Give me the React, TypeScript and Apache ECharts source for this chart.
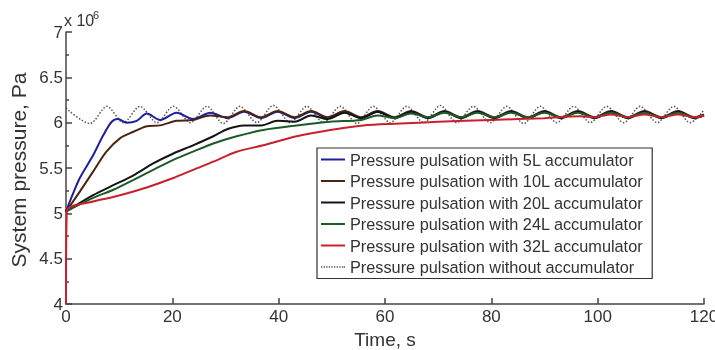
import React, { useEffect, useRef } from "react";
import * as echarts from "echarts";

const xTicks = [0, 20, 40, 60, 80, 100, 120];
const yTicks = [4, 4.5, 5, 5.5, 6, 6.5, 7];

const seriesNames = [
  "Pressure pulsation with 5L accumulator",
  "Pressure pulsation with 10L accumulator",
  "Pressure pulsation with 20L accumulator",
  "Pressure pulsation with 24L accumulator",
  "Pressure pulsation with 32L accumulator",
  "Pressure pulsation without accumulator",
];

// shared oscillation times once the accumulators settle (s)
const bandT = [30.4, 33.5, 36.7, 39.8, 43.0, 46.1, 49.2, 52.4, 55.5, 58.6, 61.8, 64.9, 68.1, 71.2, 74.3, 77.4, 80.6, 83.7, 86.9, 90.0, 93.1, 96.3, 99.4, 102.5, 105.7, 108.8, 112.0, 115.1, 118.2, 120];

// 5L
const t5 = [0, 1.2, 2.6, 5.1, 7.0, 8.6, 9.8, 11.4, 13.3, 15.2, 17.7, 20.8, 23.9, 27.2, ...bandT];
const v5 = [5.02, 5.2, 5.39, 5.64, 5.86, 6.01, 6.04, 6.0, 6.02, 6.1, 6.03, 6.11, 6.04, 6.11,
  6.05, 6.12, 6.05, 6.12, 6.05, 6.12, 6.05, 6.12, 6.05, 6.12, 6.05, 6.12, 6.05, 6.12, 6.05, 6.12, 6.05, 6.12, 6.05, 6.12, 6.05, 6.12, 6.05, 6.12, 6.05, 6.12, 6.05, 6.12, 6.05, 6.08];
// 10L
const t10 = [0, 2.6, 5.1, 7.6, 10.2, 12.7, 15.2, 17.7, 20.8, 23.9, 27.1, ...bandT];
const v10 = [5.02, 5.24, 5.46, 5.68, 5.83, 5.9, 5.96, 5.97, 6.02, 6.03, 6.08,
  6.06, 6.13, 6.06, 6.13, 6.06, 6.13, 6.06, 6.13, 6.06, 6.13, 6.06, 6.13, 6.06, 6.13, 6.06, 6.13, 6.06, 6.13, 6.06, 6.13, 6.06, 6.13, 6.06, 6.13, 6.06, 6.13, 6.06, 6.13, 6.06, 6.09];
// 20L
const t20 = [0, 5.1, 8.9, 12.7, 16.4, 20.2, 23.9, 27.7, ...bandT];
const v20 = [5.02, 5.2, 5.31, 5.42, 5.55, 5.66, 5.75, 5.85,
  5.93, 5.97, 5.97, 6.02, 6.01, 6.08, 6.04, 6.11, 6.05, 6.12, 6.05, 6.12, 6.05, 6.12, 6.05, 6.12, 6.05, 6.12, 6.05, 6.12, 6.05, 6.12, 6.05, 6.12, 6.05, 6.12, 6.05, 6.12, 6.05, 6.08];
// 24L
const t24 = [0, 5.1, 8.9, 12.7, 16.4, 20.2, 23.9, 27.7, 32.1, 37.1, 43.4, 49.7, 55.5, 58.6, 61.8, 64.9, 68.1, 71.2, 74.3, 77.4, 80.6, 83.7, 86.9, 90.0, 93.1, 96.3, 99.4, 102.5, 105.7, 108.8, 112.0, 115.1, 118.2, 120];
const v24 = [5.02, 5.17, 5.26, 5.37, 5.48, 5.59, 5.68, 5.77, 5.85, 5.92, 5.97, 6.01, 6.03, 6.08, 6.05, 6.1, 6.06, 6.11, 6.06, 6.11, 6.06, 6.11, 6.06, 6.11, 6.06, 6.11, 6.06, 6.11, 6.06, 6.11, 6.06, 6.11, 6.06, 6.08];
// 32L
const t32 = [0, 0.15, 5.1, 8.9, 12.7, 16.4, 20.2, 23.9, 27.7, 32.1, 37.1, 43.4, 49.7, 55.9, 62.8, 70, 80, 90, 96.7, 99.4, 102.5, 105.7, 108.8, 112.0, 115.1, 118.2, 120];
const v32 = [4.0, 5.02, 5.13, 5.18, 5.24, 5.31, 5.39, 5.48, 5.57, 5.68, 5.75, 5.85, 5.92, 5.97, 5.99, 6.01, 6.03, 6.05, 6.07, 6.06, 6.09, 6.06, 6.09, 6.06, 6.09, 6.06, 6.08];
// without accumulator
const t0 = [0, 4.5, 7.7, 10.8, 13.9, 17.1, 20.2, 23.4, 26.5, 29.6, 32.7, 35.9, 39.0, 42.2, 45.3, 48.4, 51.6, 54.7, 57.8, 61.0, 64.1, 67.3, 70.4, 73.5, 76.6, 79.8, 82.9, 86.1, 89.2, 92.3, 95.5, 98.6, 101.7, 104.9, 108.0, 111.2, 114.3, 117.4, 120];
const v0 = [6.16, 5.99, 6.18, 6.0, 6.18, 6.0, 6.18, 6.0, 6.18, 5.99, 6.18, 6.0, 6.19, 6.0, 6.18, 6.0, 6.18, 5.99, 6.18, 6.0, 6.18, 6.0, 6.19, 6.0, 6.18, 6.0, 6.18, 5.99, 6.18, 6.0, 6.18, 6.0, 6.18, 6.0, 6.18, 6.0, 6.18, 6.0, 6.14];

const colors = ["#1f1f9a", "#4a2612", "#141414", "#1c5a26", "#c8202c", "#555555"];

const FONT = "'Liberation Sans', Arial, sans-serif";

const SOLID_ICON = "path://M0,0h24v2h-24z";
const DOTTED_ICON =
  "path://M0,0h1.3v1.3h-1.3zM2.6,0h1.3v1.3h-1.3zM5.2,0h1.3v1.3h-1.3zM7.8,0h1.3v1.3h-1.3zM10.4,0h1.3v1.3h-1.3zM13,0h1.3v1.3h-1.3zM15.6,0h1.3v1.3h-1.3zM18.2,0h1.3v1.3h-1.3zM20.8,0h1.3v1.3h-1.3zM22.7,0h1.3v1.3h-1.3z";

export default function App() {
  const ref = useRef<HTMLDivElement>(null);
  useEffect(() => {
    if (!ref.current) return;
    document.body.style.margin = "0";
    document.body.style.overflow = "hidden";
    document.documentElement.style.overflow = "hidden";
    const chart = echarts.init(ref.current, null, { renderer: "svg" });
    const pairs = (t: number[], v: number[]) => t.map((x, i) => [x, v[i]]);
    const sets = [pairs(t5, v5), pairs(t10, v10), pairs(t20, v20), pairs(t24, v24), pairs(t32, v32), pairs(t0, v0)];
    const series = sets.map((d, i) => ({
      name: seriesNames[i],
      type: "line",
      data: d,
      symbol: "none",
      showSymbol: false,
      smooth: 0.3,
      z: i === 5 ? 1 : 2 + i,
      lineStyle: {
        color: colors[i],
        width: i === 5 ? 1.5 : 2,
        type: i === 5 ? [1.5, 1.8] : "solid",
      },
      itemStyle: { color: colors[i] },
    }));
    chart.setOption({
      animation: false,
      textStyle: { fontFamily: FONT },
      grid: { left: 66, right: 11, top: 32, bottom: 46, containLabel: false, outerBoundsMode: "none" },
      xAxis: {
        type: "value",
        min: xTicks[0],
        max: xTicks[xTicks.length - 1],
        interval: 20,
        axisLine: { lineStyle: { color: "#444", width: 1.5 } },
        axisTick: { inside: true, length: 6, lineStyle: { color: "#444", width: 1.5 } },
        axisLabel: { fontSize: 17, color: "#333", margin: 4, fontFamily: FONT },
        splitLine: { show: false },
        name: "Time, s",
        nameLocation: "middle",
        nameGap: 22,
        nameTextStyle: { fontSize: 19, color: "#333", fontFamily: FONT },
      },
      yAxis: {
        type: "value",
        min: yTicks[0],
        max: yTicks[yTicks.length - 1],
        interval: 0.5,
        axisLine: { show: true, lineStyle: { color: "#444", width: 1.5 } },
        axisTick: { show: true, inside: true, length: 6, lineStyle: { color: "#444", width: 1.5 } },
        minorTick: { show: true, splitNumber: 2, length: 3, lineStyle: { color: "#444", width: 1.5 } },
        axisLabel: { fontSize: 17, color: "#333", margin: 3, fontFamily: FONT },
        splitLine: { show: false },
      },
      legend: {
        orient: "vertical",
        left: 317,
        top: 148,
        data: seriesNames.map((n, i) => ({
          name: n,
          icon: i === 5 ? DOTTED_ICON : SOLID_ICON,
          itemStyle: { color: colors[i] },
        })),
        itemWidth: 24,
        itemHeight: 2,
        itemGap: 4.5,
        padding: [3, 9, 3, 4],
        backgroundColor: "#fff",
        borderColor: "#333",
        borderWidth: 1.2,
        textStyle: { fontSize: 16.3, color: "#333", fontFamily: FONT, lineHeight: 17 },
      },
      graphic: [
        {
          type: "text",
          x: 18,
          y: 170,
          rotation: Math.PI / 2,
          style: {
            text: "System pressure, Pa",
            font: `21px ${FONT}`,
            fill: "#333",
            textAlign: "center",
            textVerticalAlign: "middle",
          },
        },
        {
          type: "text",
          x: 64,
          y: 28,
          style: { text: "x 10", font: `16px ${FONT}`, fill: "#333", textAlign: "left", textVerticalAlign: "bottom" },
        },
        {
          type: "text",
          x: 93,
          y: 20,
          style: { text: "6", font: `11px ${FONT}`, fill: "#333", textAlign: "left", textVerticalAlign: "bottom" },
        },
      ],
      series,
    });
    return () => chart.dispose();
  }, []);
  return (
    <div
      ref={ref}
      style={{ position: "fixed", left: 0, top: 0, width: 715, height: 350 }}
    />
  );
}
